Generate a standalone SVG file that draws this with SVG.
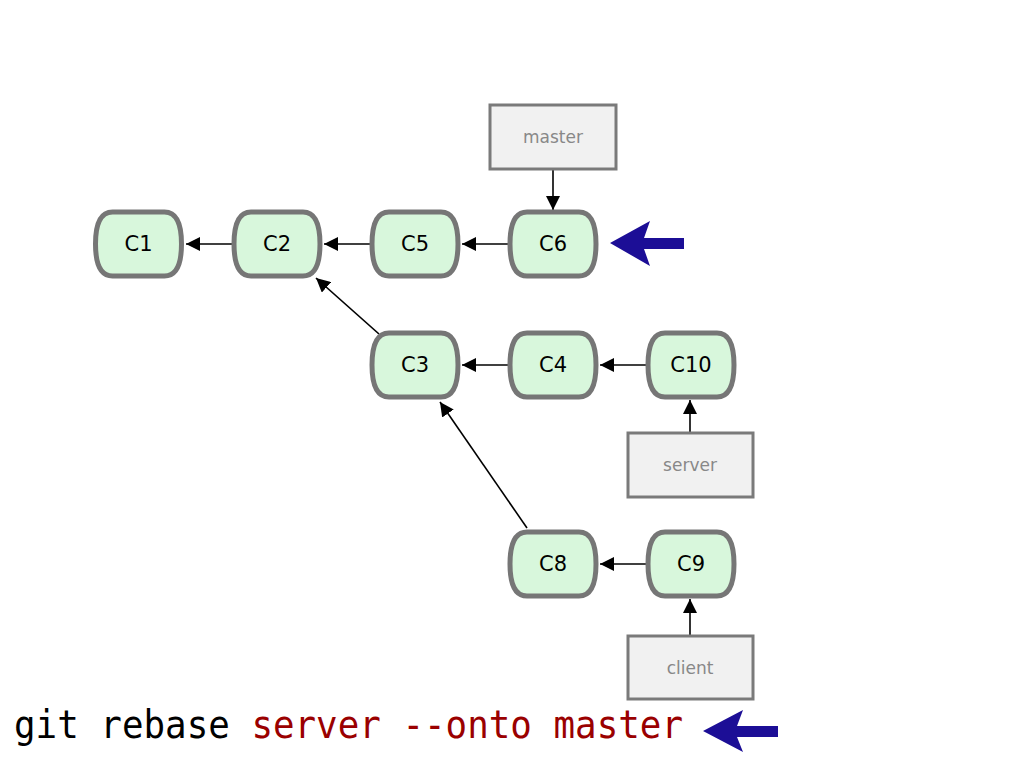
<svg xmlns="http://www.w3.org/2000/svg" width="1024" height="768" viewBox="0 0 1024 768">
  <style>
    .commit { fill: #d8f7dc; stroke: #767676; stroke-width: 5; }
    .ctext { font-family: "DejaVu Sans", "Liberation Sans", sans-serif; font-size: 21px; fill: #000; text-anchor: middle; }
    .ref { fill: #f1f1f1; stroke: #7a7a7a; stroke-width: 3; }
    .rtext { font-family: "DejaVu Sans", "Liberation Sans", sans-serif; font-size: 17px; fill: #888; text-anchor: middle; }
    .link { stroke: #000; stroke-width: 1.6; fill: none; marker-end: url(#head); }
    .blue { fill: #1c0e96; }
    .cmd { font-family: "DejaVu Sans Mono", "Liberation Mono", monospace; font-size: 39px; }
  </style>
  <defs>
    <marker id="head" viewBox="0 0 14 14" refX="14" refY="7" markerWidth="14" markerHeight="14" markerUnits="userSpaceOnUse" orient="auto">
      <path d="M0,0 L14,7 L0,14 Z" fill="#000"/>
    </marker>
    <!-- commit capsule: flat top/bottom, bulging sides -->
    <path id="commitShape" d="M-26,-32 H26 C39,-32 43,-17 43,0 C43,17 39,32 26,32 H-26 C-39,32 -43,17 -43,0 C-43,-17 -39,-32 -26,-32 Z"/>
  </defs>
  <rect width="1024" height="768" fill="#fff"/>

  <!-- connectors -->
  <g id="connectors">
    <line class="link" x1="233" y1="244" x2="186" y2="244"/>
    <line class="link" x1="372" y1="244" x2="324" y2="244"/>
    <line class="link" x1="510" y1="244" x2="462" y2="244"/>
    <line class="link" x1="553" y1="170" x2="553" y2="210"/>
    <line class="link" x1="379" y1="334" x2="316" y2="278"/>
    <line class="link" x1="510" y1="365" x2="462" y2="365"/>
    <line class="link" x1="648" y1="365" x2="600" y2="365"/>
    <line class="link" x1="690" y1="432" x2="690" y2="400"/>
    <line class="link" x1="527" y1="528" x2="440" y2="402"/>
    <line class="link" x1="648" y1="564" x2="600" y2="564"/>
    <line class="link" x1="690" y1="635" x2="690" y2="599"/>
  </g>

  <!-- commits -->
  <g id="C1"><use href="#commitShape" class="commit" transform="translate(138.5,244)"/><text class="ctext" x="138.5" y="251">C1</text></g>
  <g id="C2"><use href="#commitShape" class="commit" transform="translate(277,244)"/><text class="ctext" x="277" y="251">C2</text></g>
  <g id="C5"><use href="#commitShape" class="commit" transform="translate(415,244)"/><text class="ctext" x="415" y="251">C5</text></g>
  <g id="C6"><use href="#commitShape" class="commit" transform="translate(553,244)"/><text class="ctext" x="553" y="251">C6</text></g>
  <g id="C3"><use href="#commitShape" class="commit" transform="translate(415,365)"/><text class="ctext" x="415" y="372">C3</text></g>
  <g id="C4"><use href="#commitShape" class="commit" transform="translate(553,365)"/><text class="ctext" x="553" y="372">C4</text></g>
  <g id="C10"><use href="#commitShape" class="commit" transform="translate(691,365)"/><text class="ctext" x="691" y="372">C10</text></g>
  <g id="C8"><use href="#commitShape" class="commit" transform="translate(553,564)"/><text class="ctext" x="553" y="571">C8</text></g>
  <g id="C9"><use href="#commitShape" class="commit" transform="translate(691,564)"/><text class="ctext" x="691" y="571">C9</text></g>

  <!-- branch refs -->
  <g id="master"><rect class="ref" x="490" y="105" width="126" height="64"/><text class="rtext" x="553" y="143">master</text></g>
  <g id="server"><rect class="ref" x="628" y="433" width="125" height="64"/><text class="rtext" x="690" y="471">server</text></g>
  <g id="client"><rect class="ref" x="628" y="636" width="125" height="63"/><text class="rtext" x="690" y="674">client</text></g>

  <!-- pointer arrows -->
  <g id="pointer-top"><path class="blue" d="M610,243 L650,221 L644,238 H684 V249 H644 L650,266 Z"/></g>
  <g id="pointer-bottom"><path class="blue" d="M703,731 L743,710 L737,726 H778 V737 H737 L743,752 Z"/></g>

  <!-- command -->
  <g id="command">
    <text class="cmd" x="14" y="738" textLength="669" lengthAdjust="spacingAndGlyphs"><tspan fill="#000">git rebase </tspan><tspan fill="#9a0000">server --onto master</tspan></text>
  </g>
</svg>
